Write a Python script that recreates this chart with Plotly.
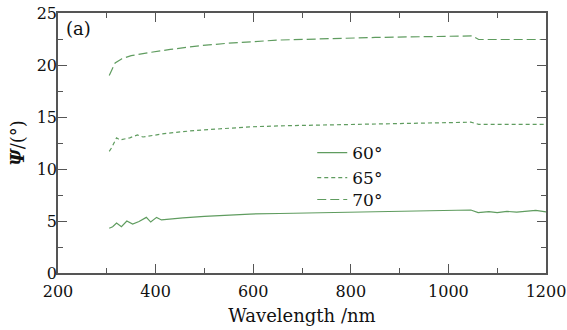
import plotly.graph_objects as go

# wavelength (nm) and Psi (degrees) for each incidence angle
wl_60 = [305, 312, 320, 330, 341, 353, 366, 381, 390, 402, 412, 430, 456, 500, 550, 593, 654, 750, 850, 913, 1000, 1046, 1061, 1083, 1100, 1120, 1140, 1160, 1179, 1200]
psi_60 = [4.3, 4.45, 4.8, 4.45, 5.0, 4.7, 4.95, 5.35, 4.9, 5.35, 5.1, 5.2, 5.3, 5.45, 5.58, 5.67, 5.72, 5.8, 5.88, 5.92, 5.98, 6.06, 5.8, 5.9, 5.8, 5.92, 5.85, 5.95, 6.03, 5.87]

wl_65 = [305, 310, 320, 327, 347, 363, 374, 400, 422, 480, 540, 593, 654, 750, 850, 950, 1046, 1062, 1100, 1200]
psi_65 = [11.7, 12.05, 13.0, 12.8, 13.0, 13.27, 13.08, 13.3, 13.43, 13.7, 13.9, 14.05, 14.15, 14.25, 14.35, 14.45, 14.5, 14.3, 14.3, 14.3]

wl_70 = [305, 317, 331, 350, 388, 430, 490, 550, 654, 750, 850, 950, 1000, 1049, 1062, 1100, 1150, 1200]
psi_70 = [19.0, 20.2, 20.6, 20.9, 21.2, 21.5, 21.85, 22.1, 22.4, 22.55, 22.65, 22.72, 22.75, 22.8, 22.45, 22.45, 22.4, 22.45]

names = ["60°", "65°", "70°"]
green = "#5f9c5f"

font_family = "DejaVu Serif"
txt_color = "#111111"

fig = go.Figure()
fig.add_trace(go.Scatter(x=wl_60, y=psi_60, mode="lines", name=names[0], legend="legend",
                         line=dict(color=green, width=1.2, dash="solid")))
fig.add_trace(go.Scatter(x=wl_65, y=psi_65, mode="lines", name=names[1], legend="legend2",
                         line=dict(color=green, width=1.2, dash="4px,3px")))
fig.add_trace(go.Scatter(x=wl_70, y=psi_70, mode="lines", name=names[2], legend="legend3",
                         line=dict(color=green, width=1.2, dash="9px,4px")))

axis_common = dict(showline=True, linecolor="#555555", linewidth=1.5, mirror="ticks",
                   ticks="inside", tickcolor="#555555", tickwidth=1.2, ticklen=9,
                   showgrid=False, zeroline=False, automargin=False,
                   ticklabeloverflow="allow",
                   tickfont=dict(family=font_family, size=16, color=txt_color))

leg_common = dict(x=0.521, xanchor="left", yanchor="middle", bgcolor="rgba(0,0,0,0)",
                  font=dict(family=font_family, size=17, color=txt_color), itemwidth=30)

fig.update_layout(
    width=567, height=330,
    margin=dict(l=58, r=21, t=13, b=57),
    paper_bgcolor="white", plot_bgcolor="white",
    showlegend=True,
    legend=dict(y=0.4615, **leg_common),
    legend2=dict(y=0.365, **leg_common),
    legend3=dict(y=0.281, **leg_common),
    xaxis=dict(range=[200, 1200], dtick=200, tick0=200, ticklabelstandoff=3,
               minor=dict(dtick=100, ticks="inside", ticklen=5, tickcolor="#555555", tickwidth=1.2),
               title=dict(text="Wavelength /nm", font=dict(family=font_family, size=18, color=txt_color), standoff=9),
               **axis_common),
    yaxis=dict(range=[0, 25], dtick=5, ticklabelstandoff=-4,
               minor=dict(dtick=2.5, ticks="inside", ticklen=5, tickcolor="#555555", tickwidth=1.2),
               title=dict(text="<b><i>Ψ</i></b>/(°)", font=dict(family=font_family, size=18, color=txt_color), standoff=7),
               **axis_common),
    annotations=[dict(text="(a)", xref="paper", yref="paper", x=0.012, y=0.99,
                      xanchor="left", yanchor="top", showarrow=False,
                      font=dict(family=font_family, size=18, color=txt_color))],
)

fig.write_html("out.html")
